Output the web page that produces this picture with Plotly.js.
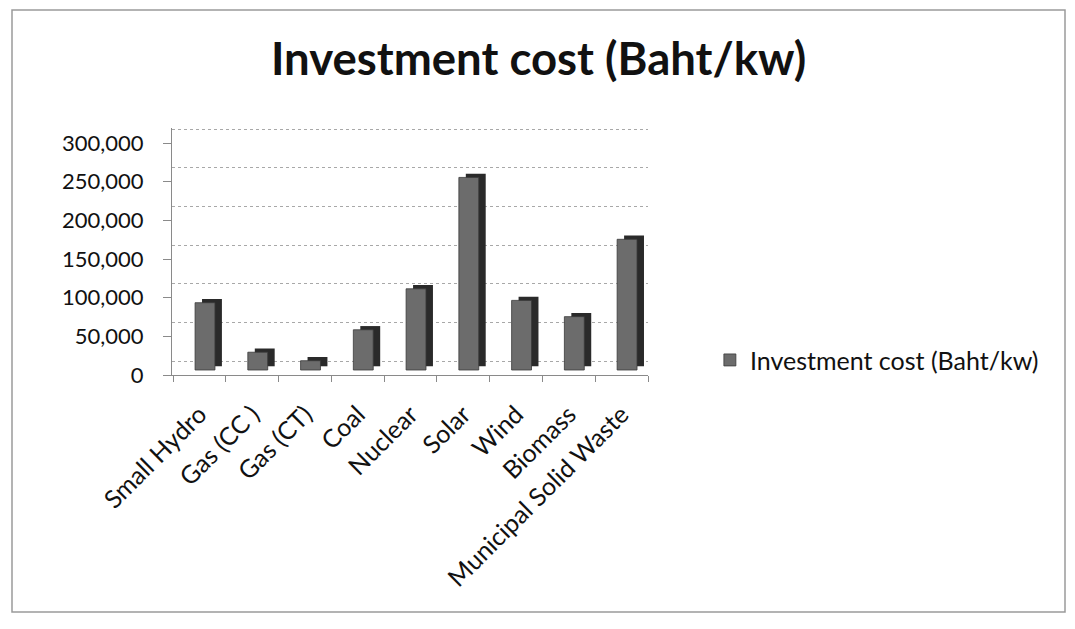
<!DOCTYPE html>
<html>
<head>
<meta charset="utf-8">
<script src="https://cdn.plot.ly/plotly-3.0.1.min.js"></script>
<style>
  html, body { margin: 0; padding: 0; background: #ffffff; }
  #chart { width: 1075px; height: 629px; }
</style>
</head>
<body>
<div id="chart"></div>
<script>
// ---- Data ----
const categories = ["Small Hydro", "Gas (CC )", "Gas (CT)", "Coal", "Nuclear", "Solar", "Wind", "Biomass", "Municipal Solid Waste"];
const investmentCost = [87000, 23000, 12000, 52000, 105000, 249000, 90000, 69000, 169000];
const seriesName = "Investment cost (Baht/kw)";
const yTickValues = [0, 50000, 100000, 150000, 200000, 250000, 300000];

// ---- Styles ----
const FONT = "Lato, 'Open Sans', sans-serif";
const depthBase = investmentCost.map(() => 4800); // 3-D depth lift of the dark side/top face

const labelAxisCarrier = {
  type: "scatter", x: [categories[0]], y: [0], yaxis: "y",
  mode: "markers", marker: { opacity: 0 }, showlegend: false, hoverinfo: "skip"
};
const gridAxisCarrier = {
  type: "scatter", x: [categories[0]], y: [0], yaxis: "y2",
  mode: "markers", marker: { opacity: 0 }, showlegend: false, hoverinfo: "skip"
};

const sideFace = {
  type: "bar",
  x: categories,
  y: investmentCost,
  base: depthBase,
  yaxis: "y3",
  width: 0.377,
  offset: 0.047,
  marker: { color: "#2a2a2a", line: { width: 0 } },
  showlegend: false,
  hoverinfo: "skip"
};

const frontFace = {
  type: "bar",
  name: seriesName,
  x: categories,
  y: investmentCost,
  yaxis: "y3",
  width: 0.377,
  offset: -0.085,
  marker: { color: "#6c6c6c", line: { width: 0.8, color: "#3a3a3a" } }
};

const layout = {
  width: 1075,
  height: 629,
  paper_bgcolor: "#ffffff",
  plot_bgcolor: "rgba(0,0,0,0)",
  margin: { l: 172, r: 427, t: 128, b: 254 },
  font: { family: FONT, color: "#111111" },
  barmode: "overlay",
  title: {
    text: "<b>Investment cost (Baht/kw)</b>",
    font: { family: FONT, size: 45.5, color: "#111111" },
    x: 0.501, xanchor: "center",
    y: 0.906, yanchor: "middle", yref: "container"
  },
  xaxis: {
    type: "category",
    tickangle: -45,
    tickfont: { family: FONT, size: 25, color: "#111111" },
    showline: true, linecolor: "#8a8a8a", linewidth: 1,
    ticks: "outside", tickson: "boundaries", ticklen: 6, tickcolor: "#8a8a8a",
    ticklabelstandoff: 14,
    showgrid: false, zeroline: false
  },
  yaxis: {
    range: [0, 319400],
    tickvals: yTickValues,
    tickformat: ",",
    tickfont: { family: FONT, size: 22, color: "#111111" },
    showline: true, linecolor: "#8a8a8a", linewidth: 1,
    ticks: "outside", ticklen: 8, tickcolor: "#8a8a8a",
    ticklabelstandoff: 15,
    showgrid: false, zeroline: false, fixedrange: true
  },
  yaxis2: {
    overlaying: "y",
    range: [-18100, 301300],
    tickvals: yTickValues,
    showticklabels: false,
    showgrid: true, gridcolor: "#a8a8a8", gridwidth: 1, griddash: "dot",
    zeroline: false, showline: false, ticks: ""
  },
  yaxis3: {
    overlaying: "y",
    range: [-6470, 312900],
    showticklabels: false, showgrid: false, zeroline: false, showline: false, ticks: ""
  },
  legend: {
    x: 1.13, xanchor: "left",
    y: 0.06, yanchor: "middle",
    font: { family: FONT, size: 25, color: "#111111" },
    bgcolor: "rgba(0,0,0,0)",
    itemwidth: 30
  },
  shapes: [
    { type: "rect", xref: "paper", yref: "paper",
      x0: (12 - 172) / 476, x1: (1065 - 172) / 476,
      y0: (375 - 612) / 247, y1: (375 - 10) / 247,
      line: { color: "#9a9a9a", width: 1.5 }, fillcolor: "rgba(0,0,0,0)", layer: "below" }
  ]
};

Plotly.newPlot("chart", [labelAxisCarrier, gridAxisCarrier, sideFace, frontFace], layout, { staticPlot: true, displayModeBar: false });
</script>
</body>
</html>
